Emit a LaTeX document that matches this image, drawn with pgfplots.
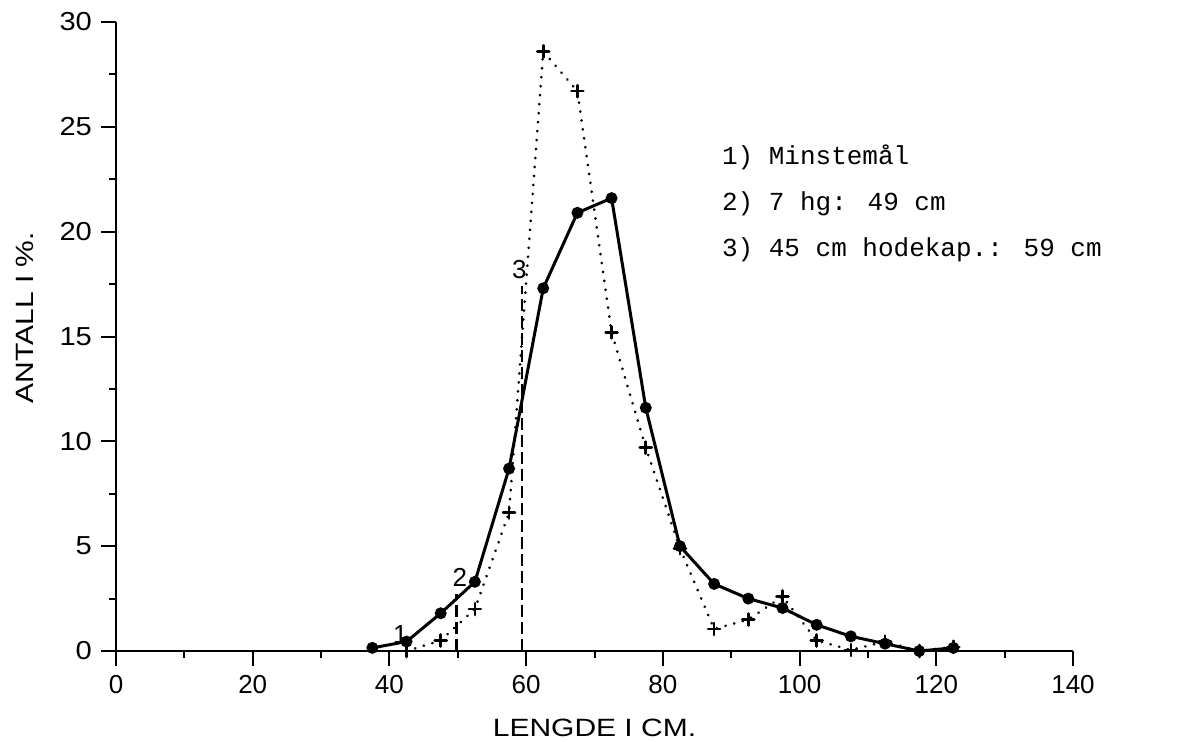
\documentclass[border=0pt]{standalone}
\usepackage{fontspec}
\setmainfont{Liberation Sans}
\newfontfamily\typewriter{Liberation Mono}
\newfontfamily\widesans[FakeStretch=1.2]{Liberation Sans}
\newfontfamily\ticksans[FakeStretch=1.12]{Liberation Sans}
\usepackage{pgfplots}
\pgfplotsset{compat=1.18}

\begin{document}
\begin{tikzpicture}
\path[use as bounding box] (-58pt,-45pt) rectangle (541pt,325.5pt);
\begin{axis}[
    at={(0,0)}, anchor=south west,
    scale only axis,
    width=478.5pt, height=314.5pt,
    xmin=0, xmax=140, ymin=0, ymax=30,
    axis x line*=bottom, axis y line*=left,
    axis line style={line width=1.3pt},
    xtick={0,20,...,140}, ytick={0,5,...,30},
    minor x tick num=1, minor y tick num=1,
    tick align=outside,
    major tick length=7.5pt, minor tick length=3.5pt,
    tick style={line width=1pt, black},
    /pgf/number format/assume math mode=true,
    xticklabel style={font=\fontsize{13}{13}\selectfont, yshift=-1pt},
    yticklabel style={font=\ticksans\fontsize{13}{13}\selectfont, xshift=-1pt},
    xlabel={LENGDE I CM.},
    ylabel={ANTALL I \%.},
    label style={font=\widesans\fontsize{12.5}{12.5}\selectfont},
    xlabel style={at={(axis description cs:0.5,-0.122)}, anchor=center},
    ylabel style={at={(axis description cs:-0.095,0.53)}, anchor=center},
    clip=false,
]
% solid series
\addplot[black, line width=1.5pt, mark=*, mark size=2.2pt] coordinates {
    (37.5,0.15) (42.5,0.45) (47.5,1.8) (52.5,3.3) (57.5,8.7) (62.5,17.3)
    (67.5,20.9) (72.5,21.6) (77.5,11.6) (82.5,5.0) (87.5,3.2) (92.5,2.5)
    (97.5,2.05) (102.5,1.25) (107.5,0.7) (112.5,0.35) (117.5,0.0) (122.5,0.15)
};
% dotted series
\addplot[black, line width=1.4pt, line cap=round, dash pattern=on 0.1pt off 4.4pt,
    mark=+, mark size=3pt, mark options={solid, line width=1.3pt}] coordinates {
    (42.5,0) (47.5,0.5) (52.5,2.0) (57.5,6.6) (62.5,28.6) (67.5,26.7)
    (72.5,15.2) (77.5,9.7) (82.5,4.9) (87.5,1.05) (92.5,1.5) (97.5,2.6)
    (102.5,0.5) (107.5,0.05) (112.5,0.45) (117.5,0) (122.5,0.2)
};
% reference lines
\addplot[black, line width=1.2pt, dash pattern=on 6pt off 2.5pt] coordinates {(49.8,0) (49.8,2.7)};
\addplot[black, line width=1.2pt, dash pattern=on 6pt off 2.5pt] coordinates {(59.4,0) (59.4,17.4)};
\node[font=\fontsize{13}{13}\selectfont] at (axis cs:41.6,0.8) {1};
\node[font=\fontsize{13}{13}\selectfont] at (axis cs:50.3,3.5) {2};
\node[font=\fontsize{13}{13}\selectfont] at (axis cs:59.0,18.2) {3};
\node[anchor=base west, inner sep=0pt, font=\typewriter\fontsize{13}{13}\selectfont] at (axis cs:88.6,23.2) {1) Minstemål};
\node[anchor=base west, inner sep=0pt, font=\typewriter\fontsize{13}{13}\selectfont] at (axis cs:88.6,21.0) {2) 7 hg: 49 cm};
\node[anchor=base west, inner sep=0pt, font=\typewriter\fontsize{13}{13}\selectfont] at (axis cs:88.6,18.8) {3) 45 cm hodekap.: 59 cm};
\end{axis}
\end{tikzpicture}
\end{document}
